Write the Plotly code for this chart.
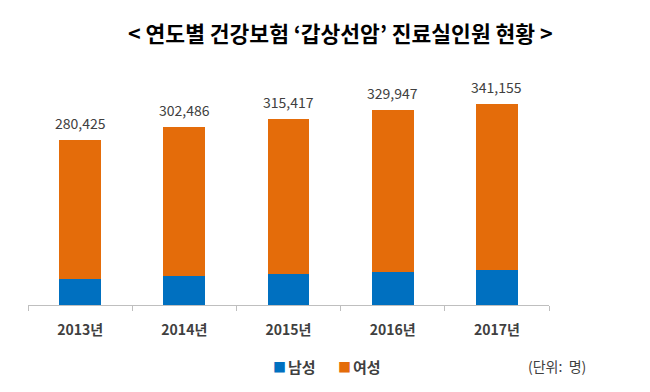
import plotly.graph_objects as go

years = ["2013년", "2014년", "2015년", "2016년", "2017년"]
totals = [280425, 302486, 315417, 329947, 341155]
male = [43600, 49600, 52200, 56000, 60100]
female = [236825, 252886, 263217, 273947, 281055]
total_labels = ["280,425", "302,486", "315,417", "329,947", "341,155"]

FONT = "Noto Sans CJK KR"
BLUE = "#0070C0"
ORANGE = "#E46C0A"

fig = go.Figure()
fig.add_trace(go.Bar(x=years, y=male, name="남성", marker=dict(color=BLUE, line=dict(width=0)),
                     showlegend=False, hoverinfo="skip"))
fig.add_trace(go.Bar(x=years, y=female, name="여성", marker=dict(color=ORANGE, line=dict(width=0)),
                     showlegend=False, hoverinfo="skip"))

annotations = []
for yr, tot, lab in zip(years, totals, total_labels):
    annotations.append(dict(x=yr, y=tot, xref="x", yref="y", text=lab, showarrow=False,
                            xanchor="center", yanchor="bottom", yshift=5,
                            font=dict(family=FONT, size=14, color="#404040")))

W = 521
H = 236
def px(x):
    return (x - 28) / W
def py(y):
    return (305 - y) / H

annotations += [
    dict(text="<b>&lt; 연도별 건강보험 ‘갑상선암’ 진료실인원 현황 &gt;</b>",
         xref="paper", yref="paper", x=px(340), y=py(33),
         xanchor="center", yanchor="middle", showarrow=False,
         font=dict(family=FONT, size=21.5, color="#000000")),
    dict(text=f"<span style='color:{BLUE}'>■</span>", xref="paper", yref="paper",
         x=px(271), y=py(366), xanchor="left", yanchor="middle", showarrow=False,
         font=dict(family=FONT, size=13)),
    dict(text="<b>남성</b>", xref="paper", yref="paper",
         x=px(286), y=py(366), xanchor="left", yanchor="middle", showarrow=False,
         font=dict(family=FONT, size=15, color="#404040")),
    dict(text=f"<span style='color:{ORANGE}'>■</span>", xref="paper", yref="paper",
         x=px(336), y=py(366), xanchor="left", yanchor="middle", showarrow=False,
         font=dict(family=FONT, size=13)),
    dict(text="<b>여성</b>", xref="paper", yref="paper",
         x=px(351), y=py(366), xanchor="left", yanchor="middle", showarrow=False,
         font=dict(family=FONT, size=15, color="#404040")),
    dict(text="(단위:  명)",
         xref="paper", yref="paper", x=px(526), y=py(366),
         xanchor="left", yanchor="middle", showarrow=False,
         font=dict(family=FONT, size=14, color="#404040")),
]

fig.update_layout(
    width=650, height=392,
    barmode="stack", bargap=0.6,
    margin=dict(l=28, r=101, t=69, b=87),
    paper_bgcolor="white", plot_bgcolor="white",
    font=dict(family=FONT),
    xaxis=dict(showline=True, linecolor="#BFBFBF", linewidth=1,
               ticks="outside", ticklen=5, tickcolor="#BFBFBF", tickson="boundaries",
               tickmode="array", tickvals=years, ticktext=[f"<b>{y}</b>" for y in years],
               tickfont=dict(family=FONT, size=14, color="#404040"),
               ticklabelstandoff=12, showgrid=False, zeroline=False),
    yaxis=dict(range=[0, 400000], visible=False, showgrid=False, zeroline=False),
    annotations=annotations,
)

fig.write_html("out.html", config={"displayModeBar": False},
               post_script="document.body.style.margin='0';")
